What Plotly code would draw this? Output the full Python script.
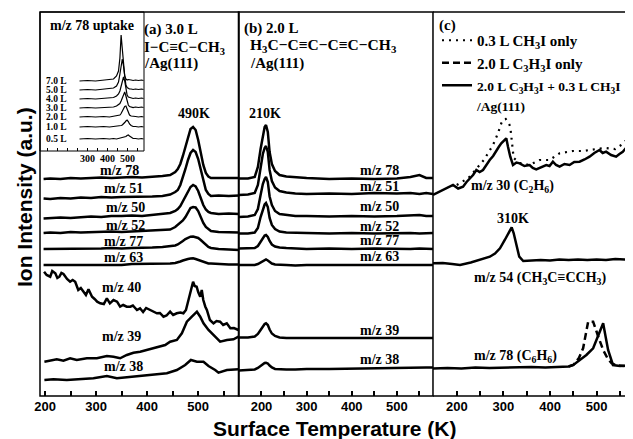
import plotly.graph_objects as go

SERIF = "Liberation Serif"
SANS = "Liberation Sans"

# ---------------- Panel (a): 3.0 L I-C≡C-CH3 / Ag(111) ----------------
t_a = [197, 210, 230, 250, 270, 290, 310, 330, 350, 370, 390, 410, 430, 445, 455, 460,
       465, 470, 475, 480, 485, 490, 495, 500, 505, 510, 515, 520, 525, 540, 560, 580]
a_mz78 = [217, 217.5, 217, 218, 217.5, 218, 218.5, 218, 218.5, 219, 218.5, 219, 220, 221, 224, 227,
          232, 240, 250, 260, 267, 269, 266, 256, 243, 231, 223, 219.5, 218, 218, 218.5, 218]
a_mz51 = [197.5, 197, 198, 197.5, 198.5, 198, 199, 198.5, 199, 199, 199.5, 199.5, 200, 201.5, 204, 206,
          211, 218, 227, 236, 243, 246, 244, 237, 226, 214, 206, 202, 200, 200.5, 200, 200.5]
a_mz50 = [177.5, 178, 178.5, 178, 179, 179.5, 179, 180, 180, 180.5, 180, 181, 181.5, 183, 185, 187,
          190, 195, 200, 205, 209, 211, 209.5, 205, 198, 191, 186.5, 184, 183, 182, 182.5, 182]
a_mz52 = [163, 163.5, 163, 164, 163.5, 164, 164, 164.5, 164, 164.5, 165, 165, 165.5, 166.5, 169, 171,
          173, 175.5, 179, 184, 188, 189, 188.5, 185, 179, 173, 169, 166.5, 165, 164, 163.5, 163.5]
a_mz77 = [147, 147, 147.5, 147, 147.5, 147, 147.5, 148, 147.5, 148, 148, 148.5, 149, 149.5, 150.5, 151.5,
          153, 155, 157, 158.5, 159.3, 159.5, 159, 158, 156, 153.5, 151, 149, 148, 147, 146.5, 146]
a_mz63 = [131, 131, 131.5, 131, 131.5, 131, 131.5, 131.5, 131, 132, 132, 132, 132.5, 132.5, 133, 133.5,
          134.5, 135.5, 136.5, 137, 137.5, 137.7, 137, 136, 135, 134, 133, 132.5, 132.5, 132, 131.5, 131.5]

t_a40 = [198, 203, 210, 214, 220, 224, 228, 232, 236, 243, 249, 254, 259, 265, 270, 275, 280, 285,
         292, 297, 302, 308, 315, 321, 327, 334, 341, 347, 353, 360, 367, 372, 380, 386, 392, 398,
         406, 412, 419, 425, 432, 438, 445, 451, 458, 465, 471, 476, 481, 485, 490, 493, 497, 500,
         504, 507, 510, 514, 517, 523, 530, 536, 543, 549, 556, 563, 570, 579]
a_mz40 = [124.3, 121, 119.3, 125, 122.7, 118, 119.3, 123, 122, 117, 114.3, 116, 114.3, 106, 108, 104.3,
          101, 106.7, 99.3, 97, 94.3, 92.7, 92, 97.7, 92.7, 96, 94.3, 89.3, 91, 89.3, 89.3, 90.5, 86,
          87.7, 84, 88, 86, 84, 82.7, 83, 79.3, 80.5, 84.3, 81, 82.7, 83.5, 82.7, 86, 96, 104, 114.3,
          110, 109.3, 104, 99.3, 106, 96, 89.3, 86, 76, 72.7, 75, 74.3, 71, 72.7, 67.7, 68, 66]

t_a39 = [198.6, 209.8, 222.9, 235.9, 249, 262, 281.8, 301.4, 321, 334, 347, 360.2, 373.1, 386.3,
         399.4, 412.4, 425.5, 435.3, 445, 458.2, 468, 477.8, 487.6, 497.5, 504, 510.4, 520.2, 533.3,
         543, 556.3, 569.2, 579]
a_mz39 = [34.3, 35.3, 36.7, 35.3, 37.7, 36, 37.7, 37.7, 40, 39.3, 37.7, 41, 43.3, 44.3, 46, 47.7, 50,
          51, 54.3, 56, 62.7, 74.3, 79.3, 84.3, 79.3, 72.7, 66, 59.3, 54.3, 56, 56.7, 59.3]

t_a38 = [198.6, 216.3, 242.5, 268.6, 294.7, 321, 340.6, 360.2, 386.3, 412.4, 438.6, 458.2, 474.5,
         485.7, 497.5, 510.4, 520.2, 533.3, 539.8, 556.3, 579]
a_mz38 = [16, 16.7, 16, 16.7, 17.7, 20, 17.7, 18.7, 20, 21, 22.7, 26, 31, 36, 34.3, 34.3, 30, 26,
          23.3, 26, 26.7]

# ---------------- Inset: m/z 78 uptake ----------------
t_in = [260, 300, 340, 380, 410, 430, 445, 455, 462, 468, 474, 480, 486, 492, 498, 504, 510, 518,
        528, 540, 555, 570, 580]
in_labels = ["7.0 L", "5.0 L", "4.0 L", "3.0 L", "2.0 L", "1.0 L", "0.5 L"]
in_70 = [315, 315.5, 315, 316, 316.5, 317, 320, 325, 338, 361, 347, 328, 320, 317, 316, 316.5, 316,
         316, 315.5, 316, 315.5, 316, 315.5]
in_50 = [306, 306.5, 306, 307, 307, 308, 310, 314, 322, 332, 337, 330, 318, 311, 308.5, 307.5, 307,
         307, 306.5, 307, 306.5, 307, 306.5]
in_40 = [297, 297.5, 297, 297.5, 298, 298.5, 300, 302, 305, 310, 316, 319, 315, 306, 301, 299, 298.5,
         298, 297.5, 298, 297.5, 298, 297.5]
in_30 = [288, 288.5, 288, 288.5, 289, 289, 290, 291, 292.5, 295, 298.5, 302, 304, 300, 294, 291,
         289.5, 289, 288.5, 289, 288.5, 289, 288.5]
in_20 = [279, 279.5, 279, 279.5, 279, 279.5, 280, 280.5, 281, 282.5, 284.5, 287, 289.5, 290, 287, 283,
         281, 280, 279.5, 279.5, 279, 279.5, 279]
in_10 = [269, 269.5, 269, 269.5, 269, 269.5, 269.5, 270, 270, 270.5, 271, 272, 273.5, 275, 276, 274.5,
         272, 270.5, 269.5, 269.5, 269, 269.5, 269]
in_05 = [257, 257.5, 257, 257.5, 257, 257.5, 257, 257.5, 257.5, 258, 258, 258.5, 259, 259.5, 260.5,
         261, 260, 258.5, 257.5, 257.5, 257, 257.5, 257]
in_series = [in_70, in_50, in_40, in_30, in_20, in_10, in_05]
in_label_y = [315, 306, 297, 288, 279, 269, 257]

# ---------------- Panel (b): 2.0 L H3C-C≡C-C≡C-CH3 / Ag(111) ----------------
t_b = [150, 170, 185, 192, 198, 203, 207, 210, 214, 218, 223, 230, 240, 255, 275, 300, 350, 400,
       450, 500, 530, 550, 565, 580]
b_mz78 = [217.5, 217.5, 219, 229, 247, 262, 269, 271, 264, 244, 232, 225, 221, 219.5, 218.5, 218,
          217, 217.5, 217, 217.5, 219, 221, 218, 218]
b_mz51 = [201, 201.5, 203, 211, 228, 242, 248, 250, 244, 226, 215, 208.5, 205, 203.5, 202.5, 202,
          202.5, 202, 203, 202.5, 203, 202, 203, 202]
b_mz50 = [179, 179.5, 181, 187, 201, 212, 217, 219, 214, 199.5, 191, 185, 182, 181, 180, 180, 179.5,
          180, 179.5, 180, 180.5, 181, 180, 180]
b_mz52 = [162.5, 162.5, 163.5, 168, 179, 187.5, 191.5, 193, 189, 178, 171, 167, 164.5, 163.5, 163,
          163, 162.5, 163, 162.5, 163, 163, 162.5, 163, 163]
b_mz77 = [147.5, 147.5, 148, 150, 154, 158, 160.5, 161, 159, 155, 151.5, 149.5, 148.5, 148, 147.5,
          147, 147.5, 147, 147.5, 147, 147, 147.5, 147, 147]
b_mz63 = [131, 131, 131, 132, 133.5, 135.5, 136.5, 136.5, 135.5, 134, 132.5, 131.5, 131, 131, 130.5,
          131, 131, 131, 131, 131.5, 131, 131, 131, 131]
b_mz39 = [58.5, 58.5, 59.5, 62, 66, 70, 72, 72.7, 71, 66.5, 62.5, 60, 58.5, 58, 58, 58.5, 58, 58.5,
          58, 58, 58.5, 58, 58, 58]
b_mz38 = [25.5, 26, 26.5, 28, 30, 32, 33, 33.3, 32.5, 30.5, 28.5, 27, 26.5, 26.5, 26.5, 27, 27, 27.5,
          27.5, 28, 28.5, 28.5, 28.5, 28.5]

# ---------------- Panel (c) ----------------
t_c30 = [149, 160, 170.7, 181, 192, 203, 213.5, 221, 227.8, 235, 242, 249, 256.3, 263, 270.7, 278,
         284.8, 290, 295.5, 301, 306.2, 310, 314.8, 320.6, 328, 335, 345, 356.3, 363, 370.4, 381,
         391.9, 399, 406.2, 413, 420.6, 431, 442, 452, 463.4, 474, 484.8, 495, 506.2, 513, 520.3,
         531, 541.8, 549, 556.1, 563, 570.4, 577.5]
c_mz30_mix = [201, 203.5, 206, 208, 211, 207.5, 209.3, 214, 217.7, 221, 226, 224, 226, 231, 236, 240,
              246, 249, 252.7, 255, 257.7, 249, 239.3, 231, 233.5, 232.7, 230, 231, 228, 226.7, 229,
              231, 230, 234.3, 231, 229.3, 232, 231, 234, 234.3, 236.5, 239.3, 243, 246, 243, 244.3,
              241, 239.3, 242, 244.3, 248, 251, 252.7]
t_c30_dot = [200, 225, 240, 249, 258, 267, 277.7, 288.4, 295.5, 300.6, 305, 310, 314.8, 322, 335, 356,
             377.7, 399, 420.6, 449, 470.5, 500, 520, 540, 556, 570, 578]
c_mz30_ch3i = [211, 218, 226, 231, 236, 242.7, 251, 262.7, 272.7, 276.7, 277, 274.3, 269.3, 238, 233,
               231, 236, 236, 242.7, 245, 245, 247, 248, 247, 252, 259.3, 262]

t_c54 = [149, 170, 190, 207, 230, 250, 271, 282, 292.7, 303, 312, 317.8, 322, 327, 334, 342.6, 360,
         380, 400, 420, 440, 460, 480, 500, 520, 540, 560, 578]
c_mz54 = [132.7, 133, 132, 131, 133.5, 136, 139.3, 142.5, 147.7, 156, 163.5, 168.7, 163, 152.7, 139.3,
          135, 135.5, 136, 135.5, 136.5, 136, 136.5, 136, 136.5, 136, 137, 136.5, 137]

t_c78 = [149, 180, 210, 240, 270, 300, 330, 360, 390, 420, 440, 450, 465, 478, 492.5, 503, 514, 519,
         524.6, 535, 550, 565, 578]
c_mz78_mix = [27.5, 28, 27.5, 28.5, 28, 28.5, 28.5, 29, 28.5, 29.5, 29.5, 31, 36, 41, 47.7, 60, 72.7,
              60, 46, 31, 30, 30.5, 30]
t_c78_dash = [440, 450, 462, 471, 481.8, 492.5, 503, 514, 523, 532, 545, 560]
c_mz78_c3h3i = [29.5, 31, 38, 47.7, 74.3, 74.3, 60, 46, 38, 32.7, 30.5, 30]

# tick positions / labels
tick_vals = [200, 250, 300, 350, 400, 450, 500, 550]
tick_text = ["200", "", "300", "", "400", "", "500", ""]
inset_tick_vals = [100, 150, 200, 250, 300, 350, 400, 450, 500, 550]
inset_tick_text = ["", "", "", "", "300", "", "400", "", "500", ""]

# ---------------- Figure ----------------
fig = go.Figure()
LW = 2.5


def line(x, y, xa, ya, width=LW, dash="solid", name=None, legend=False, rank=None):
    fig.add_trace(go.Scatter(x=x, y=y, xaxis=xa, yaxis=ya, mode="lines",
                             line=dict(color="black", width=width, dash=dash),
                             name=name, showlegend=legend, legendrank=rank,
                             hoverinfo="skip"))


for s in [a_mz78, a_mz51, a_mz50, a_mz52, a_mz77, a_mz63]:
    line(t_a, s, "x", "y")
line(t_a40, a_mz40, "x", "y")
line(t_a39, a_mz39, "x", "y")
line(t_a38, a_mz38, "x", "y")

for s in in_series:
    line(t_in, s, "x4", "y4", width=1.2)

for s in [b_mz78, b_mz51, b_mz50, b_mz52, b_mz77, b_mz63, b_mz39, b_mz38]:
    line(t_b, s, "x2", "y2")

line(t_c30_dot, c_mz30_ch3i, "x3", "y3", width=2.2, dash="2px,5px",
     name="0.3 L CH<sub>3</sub>I only", legend=True, rank=1)
line(t_c78_dash, c_mz78_c3h3i, "x3", "y3", width=2.5, dash="7px,4px",
     name="2.0 L C<sub>3</sub>H<sub>3</sub>I only", legend=True, rank=2)
line(t_c30, c_mz30_mix, "x3", "y3",
     name="<span style='font-size:13.5px'>2.0 L C<sub>3</sub>H<sub>3</sub>I + 0.3 L CH<sub>3</sub>I</span>"
          "<br><span style='font-size:13.5px'>/Ag(111)</span>", legend=True, rank=3)
line(t_c54, c_mz54, "x3", "y3")
line(t_c78, c_mz78_mix, "x3", "y3")

# ---------------- Layout ----------------
tickfont = dict(family=SANS, size=13, color="black", weight="bold")


def xax(domain, rng):
    return dict(domain=domain, range=rng, tickvals=tick_vals, ticktext=tick_text,
                ticks="inside", ticklen=5, tickwidth=1.5, tickcolor="black",
                ticklabelstandoff=1,
                showgrid=False, zeroline=False, showline=False, tickfont=tickfont)


def yax(anchor):
    return dict(domain=[0, 1], range=[0, 384], anchor=anchor, showticklabels=False,
                showgrid=False, zeroline=False, ticks="", showline=False)


A_END = 0.3356
B_START = 0.3347
B_END = 0.6627
IN_X = 0.1754
IN_Y = 0.638

# the page body adds an 8px offset, so the figure is 8px smaller than the window
fig.update_layout(
    width=625, height=431,
    margin=dict(l=32, r=0, t=4, b=43),
    plot_bgcolor="white", paper_bgcolor="white",
    xaxis=dict(**xax([0, A_END], [190, 580]), anchor="y"),
    xaxis2=dict(**xax([B_START, B_END], [149, 580]), anchor="y2"),
    xaxis3=dict(**xax([B_END, 1], [149, 578]), anchor="y3"),
    yaxis=yax("x"), yaxis2=yax("x2"), yaxis3=yax("x3"),
    xaxis4=dict(domain=[0, IN_X], range=[62.5, 582.5], anchor="y4",
                tickvals=inset_tick_vals, ticktext=inset_tick_text,
                ticks="inside", ticklen=3, tickwidth=1, tickcolor="black",
                showgrid=False, zeroline=False, showline=False,
                tickfont=dict(family=SERIF, size=10, color="black", weight="bold")),
    yaxis4=dict(domain=[IN_Y, 1], range=[245, 384], anchor="x4", showticklabels=False,
                showgrid=False, zeroline=False, ticks=""),
    showlegend=True,
    legend=dict(x=(437 - 40) / 593, y=(396 - 24) / 384, xanchor="left", yanchor="top",
                bgcolor="rgba(0,0,0,0)", itemwidth=30, valign="top",
                font=dict(family=SERIF, size=15, color="black", weight="bold"),
                tracegroupgap=0),
)

frame = dict(color="black", width=1.5)
shapes = [
    dict(type="rect", xref="paper", yref="paper", x0=0, x1=A_END, y0=0, y1=1, line=frame),
    dict(type="rect", xref="paper", yref="paper", x0=B_START, x1=B_END, y0=0, y1=1, line=frame),
    dict(type="line", xref="paper", yref="paper", x0=B_END, x1=1, y0=1, y1=1, line=frame),
    dict(type="line", xref="paper", yref="paper", x0=B_END, x1=1, y0=0, y1=0, line=frame),
    dict(type="rect", xref="paper", yref="paper", x0=0, x1=IN_X, y0=IN_Y, y1=1,
         line=dict(color="black", width=1)),
]
fig.update_layout(shapes=shapes)

anns = []


def ann(text, x, y, xref, yref, size=14, xanchor="center", family=SERIF, angle=0):
    anns.append(dict(text=text, x=x, y=y, xref=xref, yref=yref, showarrow=False,
                     xanchor=xanchor, yanchor="middle", textangle=angle,
                     font=dict(family=family, size=size, color="black", weight="bold")))


# panel (a)
ann("(a) 3.0 L", 390, 367, "x", "y", size=15, xanchor="left")
ann("I−C≡C−CH<sub>3</sub>", 390, 348, "x", "y", size=15, xanchor="left")
ann("/Ag(111)", 390, 333, "x", "y", size=15, xanchor="left")
ann("490K", 492, 282.7, "x", "y")
a_lab = ["m/z 78", "m/z 51", "m/z 50", "m/z 52", "m/z 77", "m/z 63", "m/z 40", "m/z 39", "m/z 38"]
a_lab_x = [345, 353, 357, 357, 353, 353, 350, 350, 353]
a_lab_y = [225.3, 207.7, 188.7, 171, 154.3, 138.7, 108.7, 60, 30]
for t, xx, yy in zip(a_lab, a_lab_x, a_lab_y):
    ann(t, xx, yy, "x", "y")

# inset
ann("m/z 78 uptake", 322.5, 371, "x4", "y4", size=14)
for t, yy in zip(in_labels, in_label_y):
    ann(t, 145, yy, "x4", "y4", size=9.5)

# panel (b)
ann("(b) 2.0 L", 156, 368, "x2", "y2", size=15, xanchor="left")
ann("H<sub>3</sub>C−C≡C−C≡C−CH<sub>3</sub>", 171, 351, "x2", "y2", size=15.5, xanchor="left")
ann("/Ag(111)", 169, 333, "x2", "y2", size=15, xanchor="left")
ann("210K", 207, 282.7, "x2", "y2")
b_lab = ["m/z 78", "m/z 51", "m/z 50", "m/z 52", "m/z 77", "m/z 63", "m/z 39", "m/z 38"]
b_lab_y = [225.3, 210, 189.3, 169.3, 155.3, 139.3, 66, 37]
for t, yy in zip(b_lab, b_lab_y):
    ann(t, 462, yy, "x2", "y2")

# panel (c)
ann("(c)", 158, 371, "x3", "y3", size=15, xanchor="left")
ann("m/z 30 (C<sub>2</sub>H<sub>6</sub>)", 320.6, 209.3, "x3", "y3")
ann("310K", 321, 177.7, "x3", "y3")
ann("m/z 54 (CH<sub>3</sub>C≡CCH<sub>3</sub>)", 378, 117.7, "x3", "y3")
ann("m/z 78 (C<sub>6</sub>H<sub>6</sub>)", 325, 39.3, "x3", "y3")

# axis titles
ann("Surface Temperature (K)", (335 - 40) / 593, (396 - 428) / 384, "paper", "paper",
    size=21, family=SANS)
ann("Ion Intensity (a.u.)", (24 - 40) / 593, (396 - 197) / 384, "paper", "paper",
    size=21, family=SANS, angle=-90)

fig.update_layout(annotations=anns)

fig.write_html("out.html")
